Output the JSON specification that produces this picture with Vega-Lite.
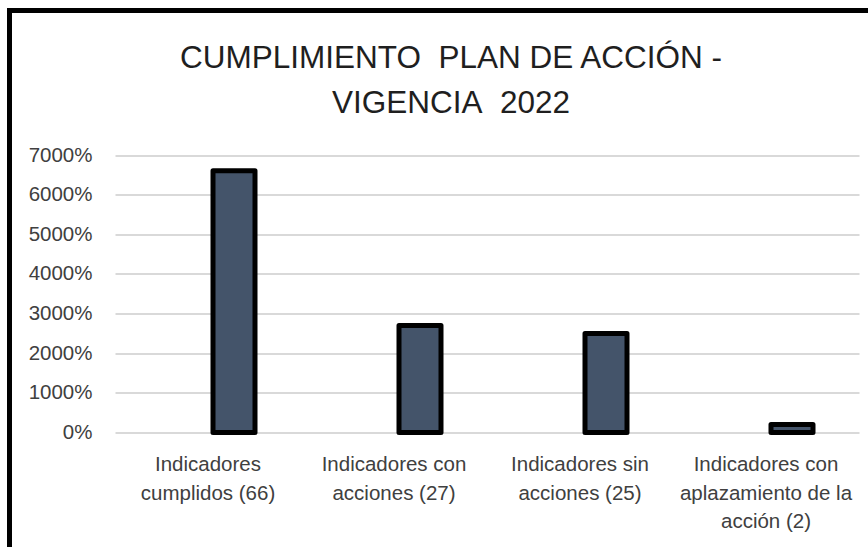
{
  "$schema": "https://vega.github.io/schema/vega-lite/v6.json",
  "width": 868,
  "height": 547,
  "autosize": {"type": "none"},
  "padding": {"left": 9.5, "top": 10.5, "right": 0, "bottom": 0},
  "background": "white",
  "config": {
    "view": {"stroke": "black", "strokeWidth": 5, "fill": "white"},
    "font": "Liberation Sans"
  },
  "title": {
    "text": ["CUMPLIMIENTO\u00a0 PLAN DE ACCIÓN -", "VIGENCIA\u00a0 2022"],
    "font": "Liberation Sans",
    "fontSize": 31.5,
    "fontWeight": "normal",
    "color": "#1f1f1f",
    "lineHeight": 45,
    "anchor": "middle",
    "frame": "group",
    "dx": 7.5,
    "offset": -109
  },
  "data": {
    "values": [
      {"indicador": "Indicadores\ncumplidos (66)", "valor": 66},
      {"indicador": "Indicadores con\nacciones (27)", "valor": 27},
      {"indicador": "Indicadores sin\nacciones (25)", "valor": 25},
      {"indicador": "Indicadores con\naplazamiento de la\nacción (2)", "valor": 2}
    ]
  },
  "mark": {
    "type": "bar",
    "fill": "#44546A",
    "stroke": "black",
    "strokeWidth": 5,
    "strokeJoin": "round",
    "width": 42,
    "xOffset": 26
  },
  "encoding": {
    "x": {
      "field": "indicador",
      "type": "nominal",
      "sort": null,
      "scale": {"range": [105.5, 849.5], "paddingInner": 0, "paddingOuter": 0},
      "axis": {
        "orient": "bottom",
        "offset": -125,
        "title": null,
        "domain": false,
        "ticks": false,
        "grid": false,
        "labelAngle": 0,
        "labelExpr": "split(datum.label, '\\n')",
        "labelLineHeight": 28.6,
        "labelFontSize": 20.5,
        "labelFont": "Liberation Sans",
        "labelColor": "#404040",
        "labelBaseline": "top",
        "labelPadding": 22,
        "labelLimit": 0
      }
    },
    "y": {
      "field": "valor",
      "type": "quantitative",
      "scale": {"domain": [0, 70], "range": [422, 144.5], "nice": false, "zero": true},
      "axis": {
        "offset": -105.5,
        "title": null,
        "domain": false,
        "ticks": false,
        "grid": true,
        "gridColor": "#d9d9d9",
        "gridWidth": 2,
        "values": [0, 10, 20, 30, 40, 50, 60, 70],
        "format": ".0%",
        "labelFontSize": 20.5,
        "labelFont": "Liberation Sans",
        "labelColor": "#404040",
        "labelPadding": 23
      }
    }
  }
}
